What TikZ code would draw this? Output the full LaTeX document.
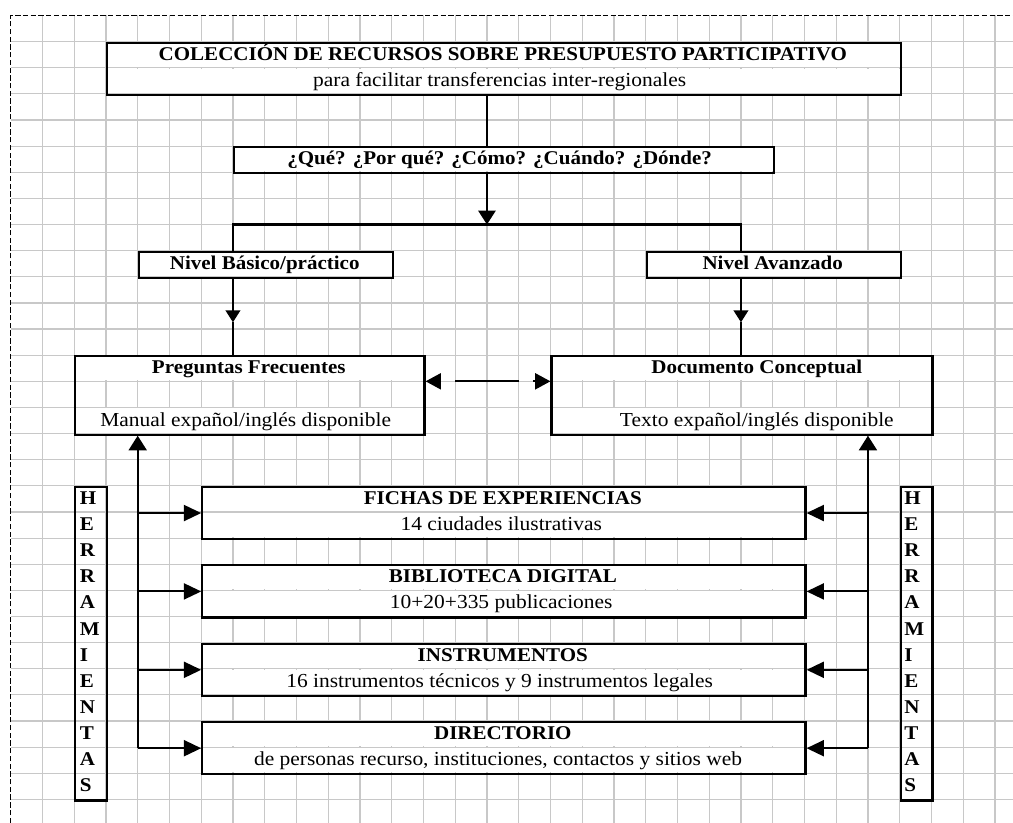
\documentclass[tikz,border=0pt]{standalone}
\usepackage{fontspec}
\setmainfont{Liberation Serif}[FakeStretch=1.08]
\usetikzlibrary{arrows.meta}
\definecolor{gridc}{RGB}{200,200,200}
\newcommand\cellw{23.8125pt}
\newcommand\cellh{19.5975pt}
\newcommand\mybox[5]{\node[boxn, minimum width={(#3-#2)*\cellw}, minimum height={(#5-#4)*\cellh}] (#1) at (#2,#4) {};}
\newcommand\wrow[3]{\fill[white] (#1,{#3+0.035}) rectangle (#2,{#3+0.965});}
\begin{document}
\begin{tikzpicture}[x=23.8125pt, y=-19.5975pt,
  gridline/.style={draw=gridc, line width=0.9pt},
  border/.style={line width=1.15pt, dash pattern=on 4pt off 1.8pt},
  boxn/.style={draw, line width=1.6pt, inner sep=0pt, anchor=north west},
  conn/.style={line width=1.6pt},
  txt/.style={inner sep=0pt, anchor=base, font=\fontsize{14.9pt}{16pt}\selectfont},
  txtb/.style={inner sep=0pt, anchor=base, font=\fontsize{14.6pt}{16pt}\selectfont\bfseries},
  lett/.style={inner sep=0pt, anchor=base west, font=\fontsize{14.6pt}{16pt}\selectfont\bfseries},
  hbig/.style={-{Triangle[length=13pt,width=12pt]}},
  hup/.style={-{Triangle[length=11pt,width=13.5pt]}},
  hmid/.style={-{Triangle[length=9pt,width=11pt]}},
  hdbl/.style={-{Triangle[length=11.5pt,width=12pt]}},
  hdown/.style={-{Triangle[length=10.5pt,width=13pt]}}
]
\useasboundingbox (-0.33701,-0.59319) rectangle (31.5685,30.9032);
% grid
\foreach \k in {1,...,31} \draw[gridline] (\k,0) -- (\k,30.9032);
\foreach \j in {1,...,30} \draw[gridline] (0,\j) -- (31.5685,\j);
% dashed border
\draw[border] (0,30.9032) -- (0,0) -- (31.5685,0);
% white text rows
\wrow{3}{28}{1}\wrow{3}{28}{2}
\wrow{7}{24}{5}
\wrow{4}{12}{9}\wrow{20}{28}{9}
\wrow{2}{13}{13}\wrow{2}{13}{15}
\wrow{17}{29}{13}\wrow{17}{29}{15}
\wrow{6}{25}{18}\wrow{6}{25}{19}
\wrow{6}{25}{21}\wrow{6}{25}{22}
\wrow{6}{25}{24}\wrow{6}{25}{25}
\wrow{6}{25}{27}\wrow{6}{25}{28}
% boxes
\mybox{title}{3}{28}{1}{3}
\mybox{que}{7}{24}{5}{6}
\mybox{nb}{4}{12}{9}{10}
\mybox{na}{20}{28}{9}{10}
\mybox{pf}{2}{13}{13}{16}
\mybox{dc}{17}{29}{13}{16}
\mybox{fichas}{6}{25}{18}{20}
\mybox{biblio}{6}{25}{21}{23}
\mybox{instr}{6}{25}{24}{26}
\mybox{dir}{6}{25}{27}{29}
\mybox{hl}{2}{3}{18}{30}
\mybox{hr}{28}{29}{18}{30}
% helper coordinates
\coordinate (spine) at (15,0);
\coordinate (fork) at (15,8);
\coordinate (forkL) at (7,8);
\coordinate (forkR) at (23,8);
\coordinate (mL) at (7,11.74);
\coordinate (mR) at (23,11.74);
\coordinate (r14) at (0,14);
\coordinate (dlA) at (13.5,14);
\coordinate (dlB) at (14,14);
\coordinate (drB) at (16,14);
\coordinate (drA) at (16.45,14);
\coordinate (lspine) at (4,0);
\coordinate (rspine) at (27,0);
% connectors
\draw[conn] (title.south -| spine) -- (que.north -| spine);
\draw[conn, hdown] (que.south -| spine) -- (fork);
\draw[conn] (nb.north -| forkL) -- (forkL) -- (forkR) -- (na.north -| forkR);
\draw[conn, hmid] (nb.south -| mL) -- (mL);
\draw[conn] (mL) -- (pf.north -| mL);
\draw[conn, hmid] (na.south -| mR) -- (mR);
\draw[conn] (mR) -- (dc.north -| mR);
\draw[conn] (dlB) -- (drB);
\draw[conn, hdbl] (dlA) -- (pf.east |- r14);
\draw[conn, hdbl] (drA) -- (dc.west |- r14);
\draw[conn, hup] (dir.west -| lspine) -- (pf.south -| lspine);
\draw[conn, hup] (dir.east -| rspine) -- (dc.south -| rspine);
\foreach \b in {fichas,biblio,instr,dir} {
  \draw[conn, hbig] (\b.west -| lspine) -- (\b.west);
  \draw[conn, hbig] (\b.east -| rspine) -- (\b.east);
}
% texts
\node[txtb] (t1a) at (15.5,1.71) {COLECCIÓN DE RECURSOS SOBRE PRESUPUESTO PARTICIPATIVO};
\node[txt] (t1b) at (15.4,2.71) {para facilitar transferencias\ inter-regionales};
\node[txtb] (tq) at (15.4,5.71) {¿Qué? ¿Por qué? ¿Cómo? ¿Cuándo? ¿Dónde?};
\node[txtb] (tnb) at (8,9.71) {Nivel Básico/práctico};
\node[txtb] (tna) at (24,9.71) {Nivel Avanzado};
\node[txtb] (tpf) at (7.5,13.71) {Preguntas Frecuentes};
\node[txt] (tpf2) at (7.4,15.71) {Manual expañol/inglés\ disponible};
\node[txtb] (tdc) at (23.5,13.71) {Documento Conceptual};
\node[txt] (tdc2) at (23.5,15.71) {Texto expañol/inglés disponible};
\node[txtb] (tf1) at (15.5,18.71) {FICHAS DE EXPERIENCIAS};
\node[txt] (tf2) at (15.45,19.71) {14 ciudades\ ilustrativas};
\node[txtb] (tb1) at (15.5,21.71) {BIBLIOTECA DIGITAL};
\node[txt] (tb2) at (15.45,22.71) {10+20+335 publicaciones};
\node[txtb] (ti1) at (15.5,24.71) {INSTRUMENTOS};
\node[txt] (ti2) at (15.4,25.71) {16 instrumentos\ técnicos\ y 9 instrumentos\ legales};
\node[txtb] (td1) at (15.5,27.71) {DIRECTORIO};
\node[txt] (td2) at (15.35,28.71) {de personas\ recurso, instituciones, contactos\ y\ sitios\ web};
\foreach \l [count=\i from 18] in {H,E,R,R,A,M,I,E,N,T,A,S} {
  \node[lett] (hl\i) at (2.17,{\i+0.71}) {\l};
  \node[lett] (hr\i) at (28.14,{\i+0.71}) {\l};
}
\end{tikzpicture}
\end{document}
